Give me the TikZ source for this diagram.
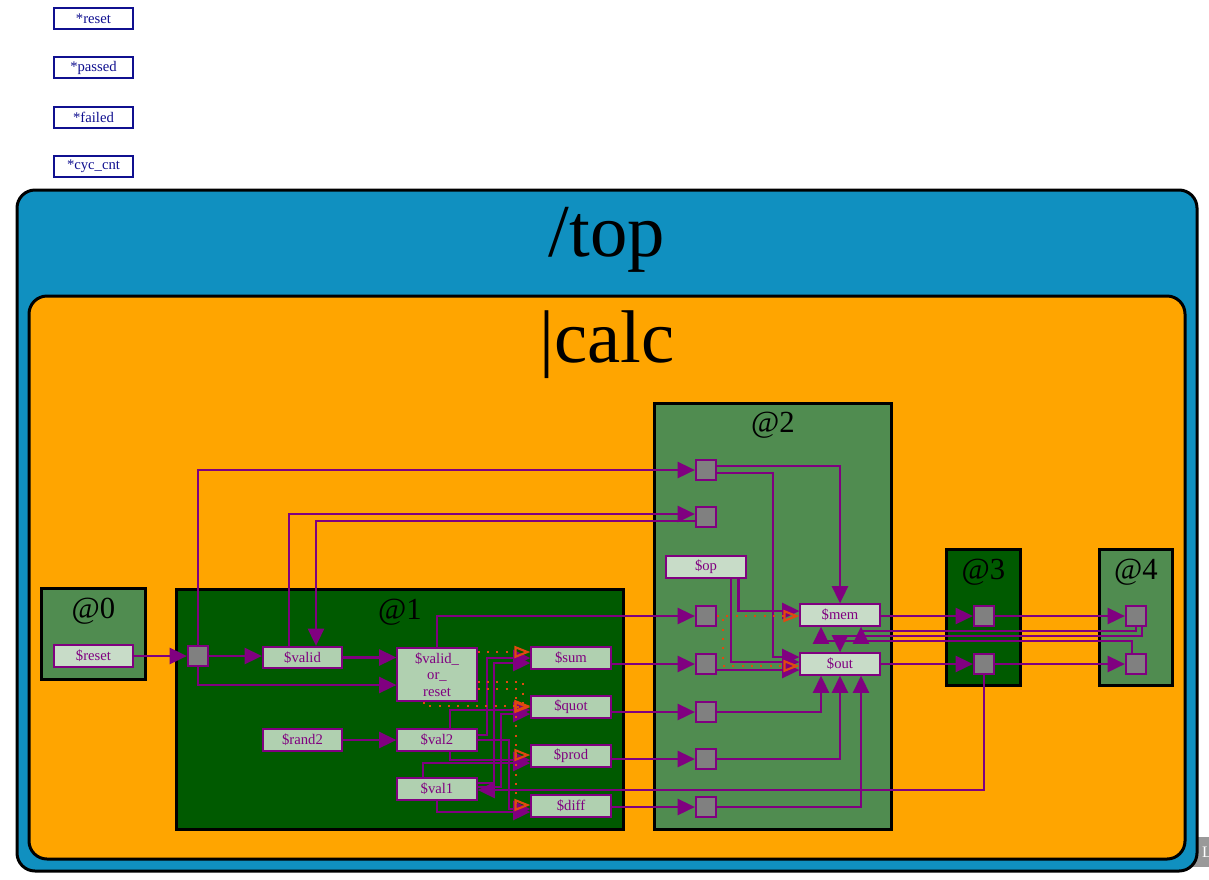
\documentclass[tikz,border=0pt]{standalone}
\usepackage{fontspec}
\setmainfont{Liberation Serif}
\usetikzlibrary{arrows.meta}

\definecolor{topblue}{HTML}{1090C0}
\definecolor{calcorange}{HTML}{FFA500}
\definecolor{midgreen}{HTML}{508C50}
\definecolor{darkgreen}{HTML}{005A00}
\definecolor{sigpale}{HTML}{C8DCC8}
\definecolor{sigdark}{HTML}{B0D0B0}
\definecolor{wirepurple}{HTML}{800080}
\definecolor{ghostred}{HTML}{E04810}
\definecolor{tbnavy}{HTML}{101090}

\begin{document}
\begin{tikzpicture}[
  x=0.75pt, y=-0.75pt,
  tbsig/.style={draw=tbnavy, line width=1.2pt, fill=white, text=tbnavy, font=\fontsize{11}{12}\selectfont, minimum width=59.5pt, minimum height=16pt, inner sep=0pt},
  region/.style={draw=black, line width=2.25pt, rounded corners=13.5pt, inner sep=0pt},
  stagebox/.style={draw=black, line width=1.6pt, inner sep=0pt},
  bigtitle/.style={font=\fontsize{56}{60}\selectfont, inner sep=0pt},
  stagetitle/.style={font=\fontsize{23}{26}\selectfont, inner sep=0pt},
  sig/.style={draw=wirepurple, line width=1.4pt, fill=sigpale, text=wirepurple, align=center, font=\fontsize{11}{12.4}\selectfont, minimum width=59.5pt, minimum height=16pt, inner sep=0pt},
  sigd/.style={sig, fill=sigdark},
  port/.style={draw=wirepurple, line width=1.4pt, fill=gray, minimum size=15.2pt, inner sep=0pt},
  wire/.style={draw=wirepurple, line width=2pt, -{Triangle[length=13pt,width=12pt]}},
  ghost/.style={draw=ghostred, line width=1.6pt, dash pattern=on 1.5pt off 5.5pt, -{Triangle[open,length=12pt,width=9pt]}}
]
\useasboundingbox (0,0) rectangle (1209,879);

\node[fill=gray!80, minimum width=14.25pt, minimum height=22.5pt, inner sep=0pt] (tag) at (1199.5,852) {};
\node[text=white, font=\fontsize{12}{14}\selectfont, inner sep=0pt] (tagtext) at (1207,852) {L};

\node[tbsig] (reset) at (93.5,18.5) {*reset};
\node[tbsig] (passed) at (93.5,67.5) {*passed};
\node[tbsig] (failed) at (93.5,117.5) {*failed};
\node[tbsig] (cyccnt) at (93.5,166.5) {*cyc\_cnt};

\node[region, fill=topblue, minimum width=885pt, minimum height=510.75pt] (top) at (607,530.5) {};
\node[bigtitle] (toptitle) at (607,240) {/top};
\node[region, fill=calcorange, minimum width=867pt, minimum height=422.25pt] (calc) at (607,577.5) {};
\node[bigtitle] (calctitle) at (607,345) {|calc};

\node[stagebox, fill=midgreen, minimum width=78pt, minimum height=68.25pt] (st0) at (93.5,634) {};
\node[stagebox, fill=darkgreen, minimum width=335.25pt, minimum height=180pt] (st1) at (400,709.5) {};
\node[stagebox, fill=midgreen, minimum width=177.75pt, minimum height=319.5pt] (st2) at (773,616.5) {};
\node[stagebox, fill=darkgreen, minimum width=55.5pt, minimum height=102pt] (st3) at (983.5,617.5) {};
\node[stagebox, fill=midgreen, minimum width=54.75pt, minimum height=102pt] (st4) at (1136,617.5) {};
\node[stagetitle] (t0) at (93.5,611) {@0};
\node[stagetitle] (t1) at (400,612) {@1};
\node[stagetitle] (t2) at (773,425) {@2};
\node[stagetitle] (t3) at (983.5,572) {@3};
\node[stagetitle] (t4) at (1136,572) {@4};

\node[sig] (rst0) at (93.5,656) {\$reset};
\node[port] (p1) at (198,656) {};
\node[sigd] (valid) at (302.5,657.5) {\$valid};
\node[sigd, minimum height=40pt] (vor) at (437,674.5) {\$valid\_\\or\_\\reset};
\node[sigd] (rand2) at (302.5,740) {\$rand2};
\node[sigd] (val2) at (437,740) {\$val2};
\node[sigd] (val1) at (437,789) {\$val1};
\node[sigd] (sum) at (571,658) {\$sum};
\node[sigd] (quot) at (571,707) {\$quot};
\node[sigd] (prod) at (571,756) {\$prod};
\node[sigd] (diff) at (571,806) {\$diff};

\node[port] (p2a) at (706,470) {};
\node[port] (p2b) at (706,517) {};
\node[port] (p2c) at (706,616) {};
\node[port] (p2d) at (706,664) {};
\node[port] (p2e) at (706,712) {};
\node[port] (p2f) at (706,759) {};
\node[port] (p2g) at (706,807) {};
\node[sig] (op) at (706,567) {\$op};
\node[sig] (mem) at (840,615) {\$mem};
\node[sig] (out) at (840,664) {\$out};

\node[port] (p3a) at (984,616) {};
\node[port] (p3b) at (984,664) {};
\node[port] (p4a) at (1136,616) {};
\node[port] (p4b) at (1136,664) {};

\draw[wire] (rst0.east) -- (p1.west);
\draw[wire] (p1.east) -- (valid.west |- p1.east);
\draw[wire] (p1.north) |- (p2a.west);
\draw[wire] (p1.south) |- (vor.west |- 0,685);
\draw[wire] (289,0 |- valid.north) |- (p2b.west |- 0,514);
\draw[wire] (p2b.west |- 0,521) -| (316,0 |- valid.north);
\draw[wire] (valid.east) -- (vor.west |- valid.east);
\draw[wire] (rand2.east) -- (val2.west);
\draw[wire] (vor.north) |- (p2c.west);

\draw[wire] (val2.east |- 0,735) -| (487,658) -- (sum.west |- 0,658);
\draw[wire] (val1.east |- 0,783) -| (494,663) -- (sum.west |- 0,663);
\draw[wire] (450,0 |- val2.north) |- (quot.west |- 0,710);
\draw[wire] (val1.east |- 0,787) -| (501,714) -- (quot.west |- 0,714);
\draw[wire] (450,0 |- val2.south) |- (prod.west |- 0,760);
\draw[wire] (423,0 |- val1.north) |- (prod.west |- 0,763);
\draw[wire] (val2.east) -| (509,809) -- (diff.west |- 0,809);
\draw[wire] (val1.south) |- (diff.west |- 0,812);

\draw[wire] (sum.east |- p2d.west) -- (p2d.west);
\draw[wire] (quot.east |- p2e.west) -- (p2e.west);
\draw[wire] (prod.east |- p2f.west) -- (p2f.west);
\draw[wire] (diff.east |- p2g.west) -- (p2g.west);

\draw[wire] (p2a.east |- 0,466) -| (mem.north);
\draw[wire] (p2a.east |- 0,473) -| (773,657) -- (out.west |- 0,657);
\draw[wire] (738.5,0 |- op.south) |- (mem.west |- 0,611);
\draw[wire] (731,0 |- op.south) |- (out.west |- 0,662);
\draw[wire] (p2d.east |- 0,670) -- (out.west |- 0,670);
\draw[wire] (p2e.east) -| (821,0 |- out.south);
\draw[wire] (p2f.east) -| (out.south);
\draw[wire] (p2g.east) -| (861,0 |- out.south);

\draw[ghost] (vor.east |- 0,652) -- (sum.west |- 0,652);
\draw[ghost] (vor.east |- 0,682) -| (523,700) |- (quot.west);
\draw[ghost] (vor.east |- 0,689) -| (516,755) -- (prod.west |- 0,755);
\draw[ghost] (424,0 |- vor.south) |- (quot.west |- 0,706);
\draw[ghost] (516,755) |- (diff.west |- 0,805);
\draw[ghost] (p2c.east) -- (mem.west |- p2c.east);
\draw[ghost] (p2c.east) -| (723,666) -- (out.west |- 0,666);

\draw[wire] (mem.east |- p3a.west) -- (p3a.west);
\draw[wire] (p3a.east) -- (p4a.west);
\draw[wire] (out.east) -- (p3b.west);
\draw[wire] (p3b.east) -- (p4b.west);
\draw[wire] (p3b.south) |- (val1.east |- 0,790);
\draw[wire] (p4a.south) |- (861,631) -- (861,0 |- mem.south);
\draw[wire] (1142,0 |- p4a.south) |- (out.north |- 0,636) -- (out.north);
\draw[wire] (1132,0 |- p4b.north) |- (821,641) -- (821,0 |- mem.south);
\end{tikzpicture}
\end{document}
